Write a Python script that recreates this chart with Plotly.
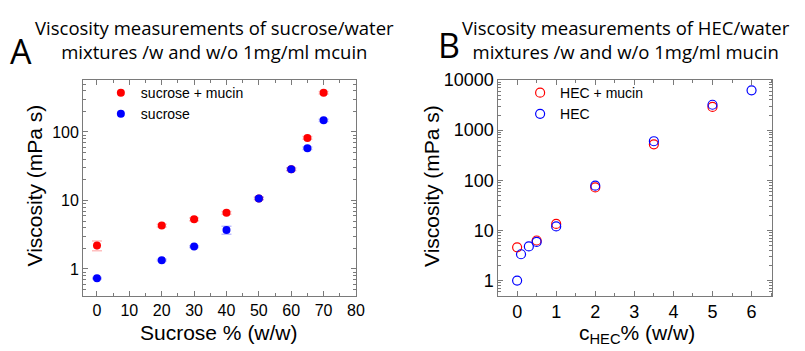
import plotly.graph_objects as go

# Panel A: sucrose/water mixtures
sucrose_pct = [0, 20, 30, 40, 50, 60, 65, 70]
visc_sucrose_mucin = [2.2, 4.3, 5.3, 6.6, 10.7, 28.6, 82, 375]
err_sucrose_mucin = [0.35, 0.2, 0.25, 0.3, 0.4, 1.2, 4, 15]
visc_sucrose = [0.73, 1.34, 2.12, 3.7, 10.7, 28.6, 58, 148]
err_sucrose = [0.02, 0.04, 0.06, 0.5, 0.4, 1.2, 2.5, 6]

# Panel B: HEC/water mixtures
hec_mucin_pct = [0, 0.5, 1, 2, 3.5, 5]
visc_hec_mucin = [4.6, 6.3, 13.5, 72, 520, 2900]
hec_pct = [0, 0.1, 0.3, 0.5, 1, 2, 3.5, 5, 6]
visc_hec = [1.0, 3.35, 4.8, 5.9, 12.0, 78, 600, 3200, 6200]

W, H = 805, 351
RED, BLUE = "#ff0000", "#0000ff"
TICK_FONT = "Liberation Sans, Arial, sans-serif"
TITLE_FONT = "Open Sans, sans-serif"
AXIS_GREY = "#7a7a7a"


def px_x(p):
    return p / W


def px_y(p):
    return 1 - p / H


fig = go.Figure()

fig.add_trace(go.Scatter(
    x=sucrose_pct, y=visc_sucrose_mucin, mode="markers", name="sucrose + mucin",
    marker=dict(color=RED, size=8),
    error_y=dict(type="data", array=err_sucrose_mucin, color="rgba(255,0,0,0.25)",
                 thickness=1.5, width=5),
    xaxis="x", yaxis="y", legend="legend"))
fig.add_trace(go.Scatter(
    x=sucrose_pct, y=visc_sucrose, mode="markers", name="sucrose",
    marker=dict(color=BLUE, size=8),
    error_y=dict(type="data", array=err_sucrose, color="rgba(0,0,255,0.25)",
                 thickness=1.5, width=5),
    xaxis="x", yaxis="y", legend="legend"))

fig.add_trace(go.Scatter(
    x=hec_mucin_pct, y=visc_hec_mucin, mode="markers", name="HEC + mucin",
    marker=dict(color="rgba(0,0,0,0)", size=9, line=dict(color=RED, width=1.2)),
    xaxis="x2", yaxis="y2", legend="legend2"))
fig.add_trace(go.Scatter(
    x=hec_pct, y=visc_hec, mode="markers", name="HEC",
    marker=dict(color="rgba(0,0,0,0)", size=9, line=dict(color=BLUE, width=1.2)),
    xaxis="x2", yaxis="y2", legend="legend2"))

ydom = [px_y(294), px_y(72)]
axis_common = dict(showline=True, linecolor=AXIS_GREY, linewidth=1, mirror="allticks",
                   ticks="inside", ticklen=5, tickcolor=AXIS_GREY, showgrid=False,
                   zeroline=False)
log_minor = dict(ticks="inside", ticklen=3, dtick="D1", tickcolor=AXIS_GREY, showgrid=False)

fig.update_layout(
    width=W, height=H, margin=dict(l=0, r=0, t=0, b=0),
    paper_bgcolor="white", plot_bgcolor="white", showlegend=True,
    xaxis=dict(domain=[px_x(84), px_x(360)], range=[-4.3, 80], dtick=10, tick0=0,
               tickfont=dict(family=TICK_FONT, size=16, color="black"),
               minor=dict(ticks="inside", ticklen=3, dtick=5, tickcolor=AXIS_GREY),
               anchor="y", **axis_common),
    yaxis=dict(domain=ydom, type="log", range=[-0.39, 2.76], dtick=1, tickformat="d",
               tickfont=dict(family=TICK_FONT, size=16, color="black"),
               minor=log_minor, anchor="x", **axis_common),
    xaxis2=dict(domain=[px_x(504), px_x(781)], range=[-0.48, 6.53], dtick=1, tick0=0,
                tickfont=dict(family=TICK_FONT, size=18, color="black"),
                minor=dict(ticks="inside", ticklen=3, dtick=0.5, tickcolor=AXIS_GREY),
                anchor="y2", **axis_common),
    yaxis2=dict(domain=ydom, type="log", range=[-0.3, 4.0], dtick=1, tickformat="d",
                tickfont=dict(family=TICK_FONT, size=18, color="black"),
                minor=log_minor, anchor="x2", **axis_common),
    legend=dict(x=px_x(102), y=px_y(69), xanchor="left", yanchor="top",
                bgcolor="rgba(0,0,0,0)", font=dict(family=TICK_FONT, size=14, color="black"),
                tracegroupgap=0),
    legend2=dict(x=px_x(526), y=px_y(69), xanchor="left", yanchor="top",
                 bgcolor="rgba(0,0,0,0)", font=dict(family=TICK_FONT, size=14, color="black"),
                 tracegroupgap=0),
)

annotations = [
    dict(text="Viscosity measurements of sucrose/water<br>mixtures /w and w/o 1mg/ml mcuin",
         x=px_x(217), y=px_y(30), font=dict(family=TITLE_FONT, size=18.5, color="black")),
    dict(text="Viscosity measurements of HEC/water<br>mixtures /w and w/o 1mg/ml mucin",
         x=px_x(633), y=px_y(30), font=dict(family=TITLE_FONT, size=18.5, color="black")),
    dict(text="A", x=px_x(21), y=px_y(42), font=dict(family=TITLE_FONT, size=34, color="black")),
    dict(text="B", x=px_x(454), y=px_y(36), font=dict(family=TITLE_FONT, size=34, color="black")),
    dict(text="Viscosity (mPa s)", x=px_x(35), y=px_y(181), textangle=-90,
         font=dict(family=TICK_FONT, size=21, color="black")),
    dict(text="Viscosity (mPa s)", x=px_x(437), y=px_y(181), textangle=-90,
         font=dict(family=TICK_FONT, size=21, color="black")),
    dict(text="Sucrose % (w/w)", x=px_x(221), y=px_y(332),
         font=dict(family=TICK_FONT, size=21, color="black")),
    dict(text="c<sub>HEC</sub>% (w/w)", x=px_x(644), y=px_y(334),
         font=dict(family=TICK_FONT, size=21, color="black")),
]
for a in annotations:
    a.update(xref="paper", yref="paper", showarrow=False, xanchor="center", yanchor="middle")
fig.update_layout(annotations=annotations)

fig.write_html("out.html")
